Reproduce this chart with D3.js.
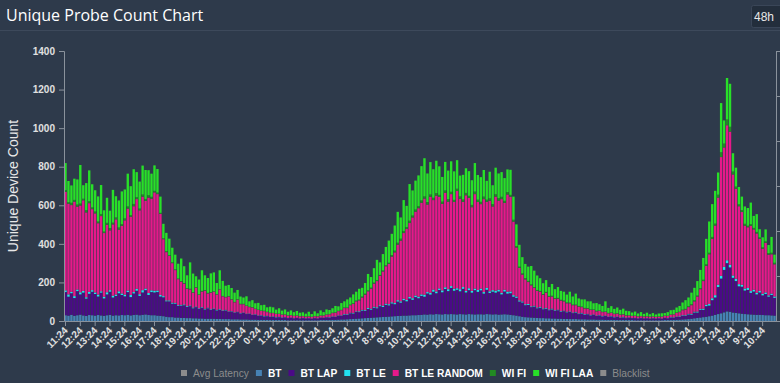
<!DOCTYPE html>
<html><head><meta charset="utf-8">
<script src="https://cdn.jsdelivr.net/npm/d3@7"></script>
<style>
html,body{margin:0;padding:0;background:#2e3a4b;}
svg{display:block;}
</style></head><body>
<svg id="c" width="780" height="383"></svg>
<script>
// ---- data (12-minute bins, 48 h window starting 11:20) ----
const seriesNames = ["BT","BT LAP","BT LE","BT LE RANDOM","WI FI","WI FI LAA"];
const seriesColors = ["#4682b4","#4b0a87","#22e1f0","#e6198a","#228b22","#28e028"];

const bt = [30,28,32,27,30,33,29,26,31,30, 28,31,29,27,30,32,28,30,29,31, 30,32,29,31,33,30,32,34,31,30,
  30,28,27,25,22,20,20,18,18,16, 16,15,15,14,14,13,13,12,12,12, 12,11,11,10,10,10,9,9,9,8,
  8,8,7,7,7,6,6,6,6,5, 5,5,5,5,5,4,4,4,4,4, 4,4,4,4,4,4,5,5,5,5,
  6,6,7,8,8,9,10,11,12,13, 14,15,16,17,18,19,20,21,22,23, 24,25,26,27,28,28,29,30,30,31,
  32,34,33,35,34,36,35,34,36,35, 36,35,34,36,35,34,36,35,34,35, 35,34,36,35,34,35,33,34,35,34,
  32,30,28,25,22,20,19,18,17,16, 15,15,14,14,13,13,12,12,11,11, 10,10,10,9,9,9,8,8,8,7,
  7,7,6,6,6,6,5,5,5,5, 5,5,4,4,4,4,4,4,4,4, 4,4,5,5,5,6,6,7,8,9,
  10,12,14,16,18,20,22,25,28,32, 36,40,45,50,48,44,42,40,38,36, 35,34,33,32,32,31,30,30,29,28];

const btLap = [120,98,112,92,125,105,118,90,110,122, 112,96,118,90,108,120,94,100,115,104, 98,118,95,112,124,100,116,126,104,120,
  118,122,100,98,80,82,70,72,60,64, 66,58,62,52,58,50,56,48,54,46, 50,44,48,42,45,38,40,34,37,31,
  34,28,30,24,26,21,22,18,19,16, 17,14,15,12,14,11,13,10,12,9, 11,9,10,8,11,9,12,11,14,13,
  16,15,20,19,25,23,30,28,35,33, 40,37,46,42,51,47,57,52,62,58, 67,62,75,68,80,74,88,80,94,87,
  98,92,110,102,118,108,126,115,130,120, 136,122,128,118,132,114,124,112,126,116, 124,108,126,110,118,112,120,104,118,108,
  112,96,92,76,74,62,64,54,58,50, 54,46,50,42,47,40,44,36,40,34, 37,31,34,27,30,24,27,21,24,19,
  22,17,20,15,18,13,16,11,14,10, 12,10,11,9,11,9,10,8,10,8, 10,8,11,9,13,11,15,14,19,18,
  24,21,30,28,40,38,55,55,80,90, 140,180,220,250,230,180,165,140,140,122, 126,112,120,106,116,102,110,96,106,92];

const btLe = [9,12,7,10,8,11,9,7,10,8, 8,10,7,9,11,8,9,7,10,8, 9,8,11,7,10,9,12,8,10,9,
  9,8,8,6,5,5,5,4,4,4, 4,4,4,4,3,3,3,3,3,3, 3,3,3,3,3,2,2,2,2,2,
  2,2,2,2,2,2,2,2,2,2, 2,2,2,2,1,1,1,1,1,1, 1,1,1,1,1,1,1,1,1,2,
  2,2,2,2,3,3,3,3,3,4, 4,4,5,5,5,5,5,6,6,6, 6,6,7,7,7,7,8,8,8,8,
  8,10,7,9,11,9,8,10,9,10, 9,10,8,11,9,8,10,9,8,10, 9,8,10,9,8,10,9,8,9,10,
  9,8,7,6,5,5,5,4,4,4, 4,4,4,4,4,3,3,3,3,3, 3,3,3,3,3,3,2,2,2,2,
  2,2,2,2,2,2,2,2,2,2, 1,1,1,1,1,1,1,1,1,1, 1,1,1,1,2,2,2,3,3,3,
  3,4,4,5,5,6,7,8,10,12, 12,14,16,15,14,12,12,11,10,10, 10,9,9,8,8,8,8,7,7,7];

const btLeRandom = [510,470,450,490,430,450,470,440,460,420, 410,370,390,330,350,310,370,390,320,350, 385,425,405,445,465,435,485,455,495,475,
  510,500,420,295,250,230,205,170,135,120, 108,90,83,76,97,69,81,94,74,86, 87,79,101,73,65,77,60,52,63,46,
  43,40,33,37,27,28,22,25,19,18, 17,16,15,14,13,12,12,11,11,10, 9,8,9,8,9,10,10,11,13,15,
  17,20,22,27,31,32,39,46,52,57, 64,81,87,104,120,136,152,178,194,210, 237,263,288,315,341,368,383,419,435,459,
  475,499,454,498,464,497,474,448,490,454, 477,450,504,468,442,496,468,434,490,456, 438,482,446,470,434,488,462,486,450,504,
  491,381,254,168,140,129,114,109,92,86, 79,71,79,66,63,59,57,55,48,44, 42,38,35,36,30,29,27,26,23,22,
  21,20,19,17,16,15,15,14,13,11, 11,10,11,10,9,9,9,9,8,8, 8,9,10,11,13,15,19,22,26,30,
  35,45,54,78,102,143,202,258,308,361, 452,616,619,700,690,524,466,404,377,326, 315,339,313,308,270,233,257,211,204,167];

const wifi = [10,8,12,9,11,10,8,12,10,9, 10,9,11,8,10,12,9,10,11,9, 10,11,9,12,10,9,11,10,12,10,
  8,8,6,5,5,4,4,4,3,3, 3,3,3,3,3,3,3,3,3,3, 2,2,2,2,2,2,2,2,2,2,
  2,2,2,2,2,2,2,2,2,2, 1,1,1,1,1,1,1,1,1,1, 1,1,1,1,1,1,1,1,1,1,
  2,2,2,2,3,3,3,4,4,4, 5,5,5,5,5,5,5,5,5,5, 8,9,10,10,11,10,12,10,11,10,
  12,11,13,12,12,13,11,12,12,13, 12,11,12,13,12,12,11,12,13,12, 12,13,11,12,12,12,13,12,11,12,
  10,10,8,7,6,6,6,5,5,5, 4,4,4,4,4,4,4,4,4,4, 3,3,3,3,3,3,3,3,3,3,
  2,2,2,2,2,2,2,2,2,2, 1,1,1,1,1,1,1,1,1,1, 1,1,1,1,1,1,2,2,3,3,
  5,5,5,5,5,7,8,8,10,10, 15,25,20,30,25,15,12,10,10,10, 8,8,8,8,8,8,8,8,8,8];

const wifiLaa = [140,110,90,110,130,200,70,140,160,120, 110,130,150,110,130,90,170,110,140,170, 150,170,150,180,130,140,150,150,130,120,
  132,122,84,75,95,86,76,76,77,117, 87,67,137,97,57,77,107,77,77,97, 98,58,98,78,58,58,58,48,48,38,
  33,48,28,36,28,35,28,31,23,31, 29,21,28,20,26,19,24,19,23,18, 19,15,23,14,24,15,26,17,26,21,
  23,33,23,35,32,42,37,46,46,56, 45,55,85,55,75,105,65,85,95,115, 110,130,160,110,160,110,190,130,150,160,
  178,198,148,168,148,168,148,128,148,148, 158,148,148,108,128,128,128,128,148,128, 128,138,98,138,98,138,128,128,118,118,
  130,120,112,113,84,74,74,95,85,75, 66,56,61,46,61,46,56,46,46,41, 57,42,57,39,37,44,35,42,32,40,
  33,30,53,26,33,25,30,24,28,23, 21,17,21,14,20,13,18,12,17,12, 15,17,13,19,22,23,26,30,37,45,
  45,60,65,75,95,113,132,162,170,170, 115,255,120,215,223,95,98,90,70,90, 92,112,62,92,42,52,62,42,82,42];

const xTickLabels = ["11:24","12:24","13:24","14:24","15:24","16:24","17:24","18:24","19:24","20:24","21:24","22:24","23:24",
  "0:24","1:24","2:24","3:24","4:24","5:24","6:24","7:24","8:24","9:24","10:24","11:24","12:24","13:24","14:24","15:24",
  "16:24","17:24","18:24","19:24","20:24","21:24","22:24","23:24","0:24","1:24","2:24","3:24","4:24","5:24","6:24",
  "7:24","8:24","9:24","10:24"];
const yTickValues = [0,200,400,600,800,1000,1200,1400];
const legendNames = ["Avg Latency","BT","BT LAP","BT LE","BT LE RANDOM","WI FI","WI FI LAA","Blacklist"];
const legendColors = ["#8c8c8c","#4682b4","#4b0a87","#22e1f0","#e6198a","#228b22","#28e028","#8c8c8c"];
const legendActive = [false,true,true,true,true,true,true,false];

// ---- layout ----
const W = 780, H = 383;
const plotL = 64, plotR = 776, plotT = 51, plotB = 321;
const spanHours = 48, binHours = 0.2;
const font = "'Liberation Sans', Arial, sans-serif";

const svg = d3.select("#c");
svg.append("rect").attr("width", W).attr("height", H).attr("fill", "#2e3a4b");
svg.append("line").attr("x1", 0).attr("x2", W).attr("y1", 30.5).attr("y2", 30.5).attr("stroke", "#3d495b").attr("stroke-width", 1);
svg.append("text").attr("x", 6).attr("y", 21).attr("fill", "#ffffff")
  .style("font-family", "'Open Sans', sans-serif").style("font-size", "16px").text("Unique Probe Count Chart");
svg.append("rect").attr("x", 751.5).attr("y", 5.5).attr("width", 32).attr("height", 22).attr("rx", 2)
  .attr("fill", "#232e3c").attr("stroke", "#3a4658");
svg.append("text").attr("x", 764).attr("y", 21).attr("text-anchor", "middle").attr("fill", "#e8e8e8")
  .style("font-family", font).style("font-size", "12px").text("48h");

const x = d3.scaleLinear().domain([0, spanHours]).range([plotL, plotR]);
const y = d3.scaleLinear().domain([0, 1400]).range([plotB, plotT]);

const rows = bt.map((v, i) => {
  const r = { t: i * binHours };
  r["BT"] = v; r["BT LAP"] = btLap[i]; r["BT LE"] = btLe[i];
  r["BT LE RANDOM"] = btLeRandom[i]; r["WI FI"] = wifi[i]; r["WI FI LAA"] = wifiLaa[i];
  return r;
});
const stacked = d3.stack().keys(seriesNames)(rows);

const step = x(binHours) - x(0);
const barW = step * 0.8;
const gBars = svg.append("g");
stacked.forEach((layer, k) => {
  gBars.append("g").attr("fill", seriesColors[k]).selectAll("rect").data(layer).join("rect")
    .attr("x", d => x(d.data.t) + (step - barW) / 2)
    .attr("width", barW)
    .attr("y", d => y(d[1]))
    .attr("height", d => Math.max(0, y(d[0]) - y(d[1])));
});

// y axis
const yAxis = svg.append("g").attr("transform", `translate(${plotL},0)`)
  .call(d3.axisLeft(y).tickValues(yTickValues).tickFormat(d3.format("d")).tickSize(5).tickPadding(4));
yAxis.selectAll("text").style("font-family", font).style("font-size", "10px").style("font-weight", "bold").attr("fill", "#e0e0e0");
yAxis.selectAll("line,path").attr("stroke", "#8a929c");

// right axis (Avg Latency, hidden series)
const yR = d3.scaleLinear().domain([0, 6]).range([plotB, plotT]);
const rAxis = svg.append("g").attr("transform", `translate(${plotR},0)`)
  .call(d3.axisRight(yR).ticks(6).tickSize(5).tickFormat(""));
rAxis.selectAll("line,path").attr("stroke", "#8a929c");

// x axis
const tickPos = xTickLabels.map((_, k) => 4 / 60 + k);
const xAxis = svg.append("g").attr("transform", `translate(0,${plotB})`)
  .call(d3.axisBottom(x).tickValues(tickPos).tickFormat((d, k) => xTickLabels[k]).tickSize(5).tickSizeOuter(0));
xAxis.selectAll("line,path").attr("stroke", "#8a929c");
xAxis.selectAll("text")
  .style("font-family", font).style("font-size", "10px").style("font-weight", "bold").attr("fill", "#e0e0e0")
  .attr("text-anchor", "end").attr("dy", null).attr("y", null)
  .attr("transform", "translate(3,10) rotate(-45)");

// y axis title
svg.append("text").attr("transform", "translate(18,186) rotate(-90)").attr("text-anchor", "middle")
  .attr("fill", "#e8e8e8").style("font-family", font).style("font-size", "14px").text("Unique Device Count");

// legend
let lx = 181;
const gLeg = svg.append("g");
legendNames.forEach((name, k) => {
  gLeg.append("rect").attr("x", lx).attr("y", 370).attr("width", 6).attr("height", 6).attr("fill", legendColors[k]);
  const t = gLeg.append("text").attr("x", lx + 12).attr("y", 376.5)
    .attr("fill", legendActive[k] ? "#ffffff" : "#8c8c8c")
    .style("font-family", font).style("font-size", "10.2px").style("font-weight", legendActive[k] ? "bold" : "normal")
    .text(name);
  lx += 12 + t.node().getComputedTextLength() + 7;
});
</script>
</body></html>
